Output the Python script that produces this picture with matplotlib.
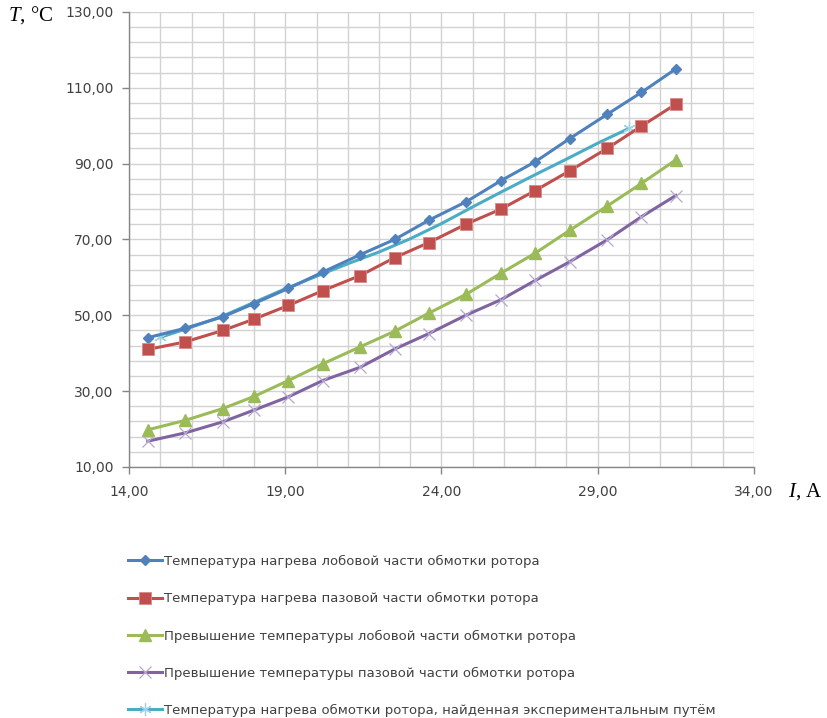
import matplotlib
matplotlib.use("Agg")
import matplotlib.pyplot as plt
from matplotlib.lines import Line2D
from matplotlib.ticker import MultipleLocator, FuncFormatter

plt.rcParams['font.family'] = ['DejaVu Sans']
plt.rcParams['mathtext.fontset'] = 'custom'
plt.rcParams['mathtext.it'] = 'Liberation Serif:italic'
plt.rcParams['mathtext.rm'] = 'Liberation Serif'

# Rotor current, A
current = [14.6, 15.8, 17.0, 18.0, 19.1, 20.2, 21.4, 22.5,
           23.6, 24.8, 25.9, 27.0, 28.1, 29.3, 30.4, 31.5]

# Calculated temperatures, °C
t_end_winding = [44.1, 46.6, 49.6, 53.1, 57.1, 61.4, 66.0, 70.0,
                 75.1, 80.0, 85.5, 90.5, 96.6, 103.0, 108.8, 115.0]
t_slot_winding = [41.0, 43.0, 46.0, 49.0, 52.6, 56.5, 60.5, 65.2,
                  69.2, 74.1, 78.0, 82.9, 88.1, 94.0, 99.9, 105.7]
rise_end_winding = [19.8, 22.3, 25.4, 28.6, 32.8, 37.2, 41.7, 45.8,
                    50.6, 55.6, 61.1, 66.4, 72.4, 78.8, 84.8, 91.0]
rise_slot_winding = [16.8, 19.0, 21.9, 25.0, 28.5, 32.8, 36.3, 41.1,
                     45.2, 50.1, 54.1, 59.2, 64.1, 69.9, 76.0, 81.6]

# Experimental curve
exp_current = [15.0, 16.0, 17.0, 18.0, 19.0, 20.0, 21.0, 22.0,
               23.0, 24.0, 25.0, 26.0, 27.0, 28.0, 29.0, 30.0]
exp_temp = [44.2, 46.9, 49.8, 53.4, 57.0, 60.3, 63.6, 66.7,
            70.2, 74.2, 78.6, 82.9, 87.1, 91.2, 95.4, 99.3]

labels = [
    "Температура нагрева лобовой части обмотки ротора",
    "Температура нагрева пазовой части обмотки ротора",
    "Превышение температуры лобовой части обмотки ротора",
    "Превышение температуры пазовой части обмотки ротора",
    "Температура нагрева обмотки ротора, найденная экспериментальным путём",
]

BLUE = "#4F81BD"
RED = "#C0504D"
GREEN = "#9BBB59"
PURPLE = "#8064A2"
CYAN = "#4BACC6"
GRID = "#D2D2D2"
TEXT = "#404040"

fig = plt.figure(figsize=(8.27, 7.18), dpi=100)
ax = fig.add_axes([0.156, 0.3496, 0.7557, 0.6337])

lw = 2.2
styles = [
    dict(color=BLUE, marker="D", ms=4.8, mfc=BLUE, mec=BLUE),
    dict(color=RED, marker="s", ms=8, mfc=RED, mec="#D88A88", mew=0.6),
    dict(color=GREEN, marker="^", ms=8, mfc=GREEN, mec=GREEN),
    dict(color=PURPLE, marker="x", ms=8, mfc="none", mec="#B6A8D0", mew=0.9),
]
series = [t_end_winding, t_slot_winding, rise_end_winding, rise_slot_winding]

for ys, st in zip(series, styles):
    ax.plot(current, ys, lw=lw, zorder=3, solid_joinstyle="round", **st)

cyan_marker = (6, 2, 0)
ax.plot(exp_current, exp_temp, color=CYAN, lw=lw, zorder=2.5,
        solid_joinstyle="round")
ax.plot([exp_current[0], exp_current[-1]], [exp_temp[0], exp_temp[-1]],
        ls="none", marker=cyan_marker, ms=9, mec="#9ED3E3", mew=0.9, zorder=2.6)

ax.set_xlim(14, 34)
ax.set_ylim(10, 130)
ax.xaxis.set_major_locator(MultipleLocator(5, offset=4))
ax.xaxis.set_minor_locator(MultipleLocator(1))
ax.yaxis.set_major_locator(MultipleLocator(20, offset=10))
ax.yaxis.set_minor_locator(MultipleLocator(4, offset=2))

comma = FuncFormatter(lambda v, p: f"{v:.2f}".replace(".", ","))
ax.xaxis.set_major_formatter(comma)
ax.yaxis.set_major_formatter(comma)

ax.grid(True, which="both", color=GRID, lw=1.0, zorder=0)
ax.set_axisbelow(True)
for s in ("top", "right"):
    ax.spines[s].set_visible(False)
for s in ("left", "bottom"):
    ax.spines[s].set_color("#868686")
    ax.spines[s].set_linewidth(1.0)

ax.tick_params(axis="both", which="major", direction="out", length=5,
               width=1, color="#868686", labelsize=10, labelcolor=TEXT)
ax.tick_params(axis="x", which="major", pad=8)
ax.tick_params(axis="y", which="major", pad=6)
ax.tick_params(axis="both", which="minor", length=0)

fig.text(0.0097, 0.9708, r"$T$, °C", fontsize=15, family="Liberation Serif",
         ha="left", va="baseline", color="black")
fig.text(0.953, 0.3078, r"$I$, A", fontsize=15, family="Liberation Serif",
         ha="left", va="baseline", color="black")

handles = [Line2D([], [], lw=lw, **st) for st in styles]
handles.append(Line2D([], [], color=CYAN, lw=lw, marker=cyan_marker, ms=9,
                      mec="#9ED3E3", mew=0.9))
fig.legend(handles, labels, loc="upper left", bbox_to_anchor=(0.155, 0.227),
           frameon=False, fontsize=9.5, handlelength=2.55, handletextpad=0.2,
           labelspacing=1.83, borderaxespad=0, borderpad=0, labelcolor=TEXT,
           numpoints=1)

fig.savefig("out.png", dpi=100)
